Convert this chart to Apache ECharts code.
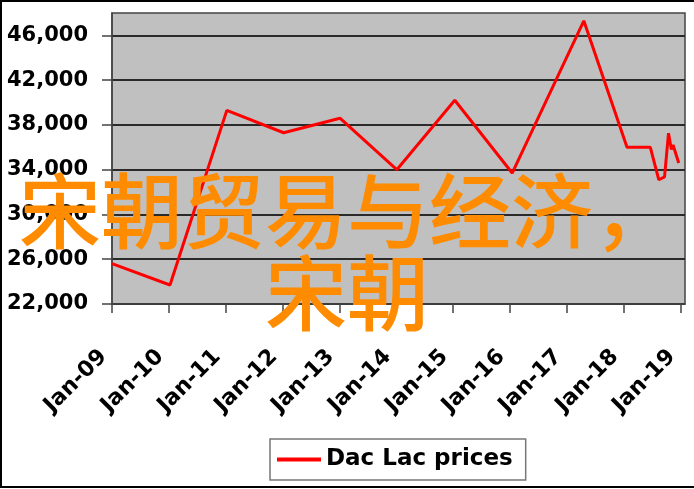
<!DOCTYPE html>
<html>
<head>
<meta charset="utf-8">
<script src="https://cdn.jsdelivr.net/npm/echarts@6/dist/echarts.min.js"></script>
<style>html,body{margin:0;padding:0;background:#fff}#c{width:694px;height:489px}</style>
</head>
<body>
<div id="c"></div>
<script>
// data (x as decimal year, y as price)
var xYears = [2009.0, 2010.02, 2011.02, 2012.02, 2013.01, 2014.01, 2015.03, 2016.04, 2017.3, 2018.06, 2018.47, 2018.62, 2018.72, 2018.79, 2018.84, 2018.87, 2018.97];
var prices = [25600, 23700, 39300, 37300, 38600, 34000, 40200, 33700, 47300, 36000, 36000, 33100, 33350, 37260, 35800, 36200, 34600];
var xTicks = [2009, 2010, 2011, 2012, 2013, 2014, 2015, 2016, 2017, 2018, 2019];
var xTickLabels = ['Jan-09', 'Jan-10', 'Jan-11', 'Jan-12', 'Jan-13', 'Jan-14', 'Jan-15', 'Jan-16', 'Jan-17', 'Jan-18', 'Jan-19'];
var yTicks = [22000, 26000, 30000, 34000, 38000, 42000, 46000];
var seriesName = 'Dac Lac prices';
var overlayText = '宋朝贸易与经济，\n宋朝';

var chart = echarts.init(document.getElementById('c'));
var pts = xYears.map(function (x, i) { return [x, prices[i]]; });
var labelFont = { fontFamily: 'DejaVu Sans', fontWeight: 'bold', color: '#000', fontSize: 21 };
chart.setOption({
  animation: false,
  backgroundColor: '#fff',
  grid: { left: 112, right: 9, top: 13, bottom: 185, show: true, backgroundColor: '#c0c0c0', borderColor: '#444', borderWidth: 1.5 },
  xAxis: {
    type: 'value', min: 2009, max: 2019.08,
    axisLine: { show: true, lineStyle: { color: '#444', width: 1.5 } },
    axisTick: { show: true, length: 9, lineStyle: { color: '#444', width: 1.5 }, customValues: xTicks },
    splitLine: { show: false },
    axisLabel: Object.assign({}, labelFont, {
      fontSize: 22, rotate: 45, margin: 41, padding: [0, 12, 0, 0], customValues: xTicks,
      formatter: function (v) { var i = xTicks.indexOf(Math.round(v)); return i >= 0 ? xTickLabels[i] : ''; }
    })
  },
  yAxis: {
    type: 'value', min: 22000, max: 48000,
    axisLine: { show: true, lineStyle: { color: '#444', width: 1.5 } },
    axisTick: { show: true, length: 10, lineStyle: { color: '#444', width: 1.5 }, customValues: yTicks },
    splitLine: { show: true, lineStyle: { color: '#2a2a2a', width: 1.8 } },
    axisLabel: Object.assign({}, labelFont, {
      margin: 24, customValues: yTicks,
      formatter: function (v) { return v.toLocaleString('en-US'); }
    })
  },
  legend: {
    left: 270, top: 439, padding: [9, 13, 9, 7],
    borderColor: '#777', borderWidth: 1.5,
    itemWidth: 44, itemHeight: 4, itemGap: 6,
    textStyle: { fontFamily: 'DejaVu Sans', fontWeight: 'bold', fontSize: 23, color: '#000' },
    data: [{ name: seriesName, icon: 'rect', itemStyle: { color: '#ff0000' } }]
  },
  series: [{
    name: seriesName, type: 'line', data: pts, symbol: 'none',
    lineStyle: { color: '#ff0000', width: 3 }, itemStyle: { color: '#ff0000' }
  }],
  graphic: [
    { type: 'rect', z: 200, silent: true, shape: { x: 1, y: 1, width: 720, height: 486 }, style: { fill: 'none', stroke: '#000', lineWidth: 2 } },
    { type: 'text', z: 200, left: 'center', top: 170, silent: true,
      style: { text: overlayText, fill: '#ff8c00', font: '500 82px "Noto Sans CJK SC"', textAlign: 'center', lineHeight: 82 } }
  ]
});
</script>
</body>
</html>
